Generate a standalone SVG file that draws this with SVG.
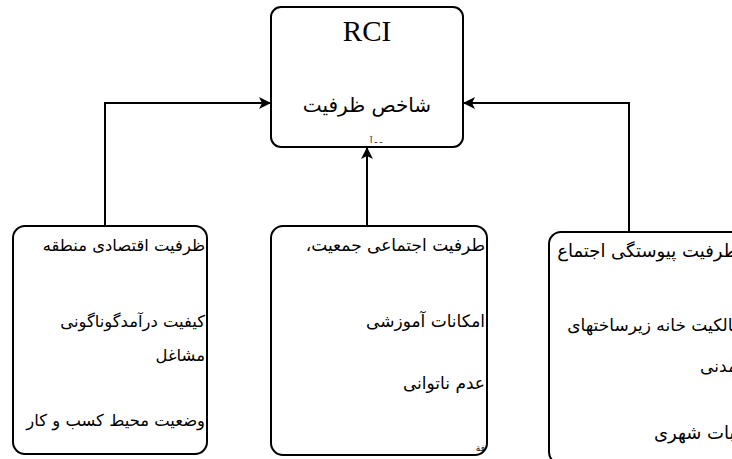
<svg xmlns="http://www.w3.org/2000/svg" width="732" height="459" viewBox="0 0 732 459">
<defs>
<marker id="arr" markerWidth="12" markerHeight="12" viewBox="0 0 12 12" refX="11" refY="6" orient="auto" markerUnits="userSpaceOnUse">
<path d="M0,0 L12,6 L0,12 L3,6 Z" fill="#000"/>
</marker>
</defs>
<style>
.box{fill:#fff;stroke:#000;stroke-width:2}
.edge{fill:none;stroke:#000;stroke-width:2;marker-end:url(#arr)}
.ar{font-family:"DejaVu Sans","Noto Sans",sans-serif;font-size:17px;fill:#000;text-anchor:start;direction:rtl}
.sm{font-size:16.4px}
.lg{font-size:18px}
.lat{font-family:"Liberation Serif","Times New Roman",serif;font-size:29px;fill:#000;text-anchor:middle}
.tiny{font-family:"DejaVu Sans",sans-serif;font-size:8px;fill:#000;direction:rtl;text-anchor:start}
</style>
<rect width="732" height="459" fill="#fff"/>
<g id="connectors">
<path class="edge" d="M105,226 V103 H270"/>
<path class="edge" d="M367,226 V148"/>
<path class="edge" d="M629,232 V103 H464"/>
</g>
<g id="rci">
<rect class="box" x="271" y="7" width="192" height="140" rx="10"/>
<text class="lat" x="367" y="41">RCI</text>
<text class="ar" x="367" y="112" style="text-anchor:middle;font-size:20px">شاخص ظرفیت</text>
<text class="tiny" x="382" y="143">ـ ـ آ</text>
</g>
<g id="economic">
<rect class="box" x="13" y="226" width="194" height="228" rx="12"/>
<text class="ar sm" x="205" y="251">ظرفیت اقتصادی منطقه</text>
<text class="ar sm" x="205" y="327">کیفیت درآمدگوناگونی</text>
<text class="ar sm" x="205" y="361">مشاغل</text>
<text class="ar sm" x="205" y="426">وضعیت محیط کسب و کار</text>
</g>
<g id="social">
<rect class="box" x="271" y="226" width="216" height="229" rx="12"/>
<text class="ar" x="485" y="251">طرفیت اجتماعی جمعیت،</text>
<text class="ar" x="485" y="327">امکانات آموزشی</text>
<text class="ar" x="485" y="389">عدم ناتوانی</text>
<text class="tiny" x="485" y="451" style="font-size:9px">فة</text>
</g>
<g id="cohesion">
<rect class="box" x="549" y="232" width="220" height="232" rx="12"/>
<text class="ar lg" x="738" y="257">طرفیت پیوستگی اجتماع</text>
<text class="ar" x="742" y="331">مالکیت خانه زیرساختهای</text>
<text class="ar" x="737" y="372">مدنی</text>
<text class="ar lg" x="740" y="439">ثبات شهری</text>
</g>
</svg>
